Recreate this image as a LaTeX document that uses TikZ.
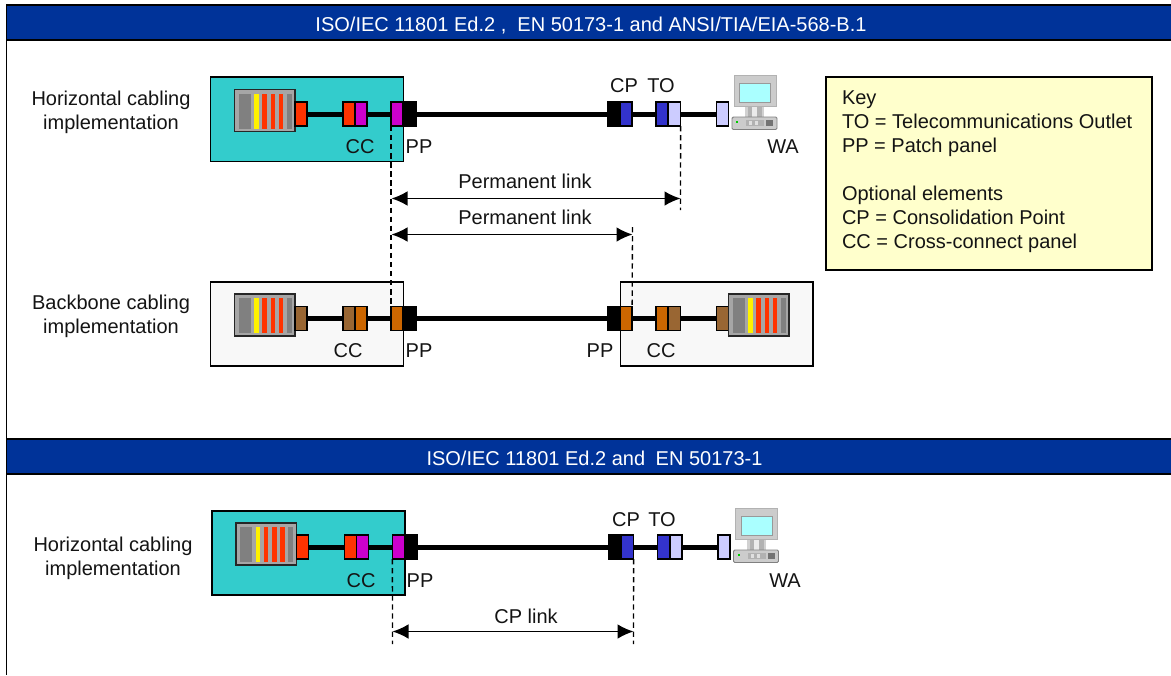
\documentclass[tikz,border=0pt]{standalone}
\usepackage{fontspec}
\setmainfont{Liberation Sans}
\usetikzlibrary{arrows.meta}
\definecolor{hdr}{HTML}{003399}
\definecolor{teal}{HTML}{33CCCC}
\definecolor{pale}{HTML}{F8F8F8}
\definecolor{keyfill}{HTML}{FFFFCC}
\definecolor{pred}{HTML}{FF3300}
\definecolor{pmag}{HTML}{CC00CC}
\definecolor{pora}{HTML}{CC6600}
\definecolor{pbro}{HTML}{996633}
\definecolor{pblu}{HTML}{3333CC}
\definecolor{plig}{HTML}{CCCCFF}
\definecolor{scr}{HTML}{AAFFFF}
\tikzset{
  txt/.style={font=\fontsize{15}{18}\selectfont,inner sep=0pt,outer sep=0pt,text=black!92},
  lab/.style={txt,anchor=base},
  hdrtxt/.style={txt,anchor=base,text=white},
  hdrbar/.style={fill=hdr,draw=black,line width=1.2pt},
  zone/.style={draw=black,line width=1.1pt},
  port/.style={draw=black,line width=1.1pt,inner sep=0pt,outer sep=0pt,minimum height=18pt,minimum width=9.2pt},
  cable/.style={line width=3.75pt,black},
  dim/.style={line width=1.1pt,{Latex[length=12pt,width=11pt]}-{Latex[length=12pt,width=11pt]}},
  guide/.style={line width=1pt,dash pattern=on 4pt off 2.8pt},
}
% panel: name, left x, top y
\newcommand\rackpanel[3]{%
  \node[draw=black!85,line width=1.1pt,fill=black!35,inner sep=0pt,outer sep=0pt,minimum width=45.5pt,minimum height=31.5pt,anchor=north west] (#1) at (#2,#3) {};
  \begin{scope}[shift={(#2,#3)}]
    \fill[black!50] (4,4) rectangle (16,39);
    \fill[yellow] (19.5,4) rectangle (24,39);
    \fill[pred] (27.5,4) rectangle (32,39);
    \fill[pred] (36,4) rectangle (40.5,39);
    \fill[pred] (44,4) rectangle (48.5,39);
    \fill[black!50] (52,4) rectangle (57,39);
  \end{scope}}
% computer: shift x, shift y
\newcommand\computer[2]{%
  \begin{scope}[shift={(#1,#2)}]
    \fill[black!18] (745,105) rectangle (764,117);
    \fill[black!30] (748,107) rectangle (762,117);
    \fill[black!8] (752,107) rectangle (757,117);
    \draw[black!30,fill=black!20,line width=0.6pt] (734,75.5) rectangle (776,106);
    \draw[black!40,fill=scr,line width=0.6pt] (739.5,83) rectangle (770.5,102);
    \draw[black!50,fill=black!20,line width=0.7pt,rounded corners=1pt] (732,117) rectangle (777,129.5);
    \fill[black!30] (746,120) rectangle (764,126);
    \fill[black!12] (749,121) rectangle (752,125);
    \fill[black!12] (755,121) rectangle (758,125);
    \fill[black!55] (766,120) rectangle (773,126);
    \fill[green!80!black] (736,120.5) rectangle (738,122.5);
  \end{scope}}
\begin{document}
\begin{tikzpicture}[x=0.75pt,y=-0.75pt]
\useasboundingbox (0,0) rectangle (1171,675);
\fill[white] (0,0) rectangle (1171,675);
% headers and frame
\draw[zone] (6.5,40) -- (6.5,675);
\draw[hdrbar] (6.5,5) rectangle (1176,40);
\draw[hdrbar] (6.5,439) rectangle (1176,474);
\node[hdrtxt] (title1) at (591,31) {ISO/IEC 11801 Ed.2 ,~ EN 50173-1 and ANSI/TIA/EIA-568-B.1};
\node[hdrtxt] (title2) at (594.5,465) {ISO/IEC 11801 Ed.2 and~\kern3.75pt EN 50173-1};
% zones
\draw[zone,fill=teal] (210.5,77) rectangle (403.5,161.5);
\draw[zone,fill=pale] (210.5,282) rectangle (403.5,366);
\draw[zone,fill=pale] (620.5,282) rectangle (813,366);
\draw[zone,fill=teal] (212,511) rectangle (405,595);
% row 1
\rackpanel{raA}{234.5}{89.5}
\node[port,fill=pred] (aP) at (301,114) {};
\node[port,fill=pred] (aC1) at (349,114) {};
\node[port,fill=pmag] (aC2) at (361,114) {};
\node[port,fill=pmag] (aPP) at (397,114) {};
\node[port,fill=black] (aPK) at (410,114) {};
\node[port,fill=black] (aCK) at (613.5,114) {};
\node[port,fill=pblu] (aCB) at (626,114) {};
\node[port,fill=pblu] (aT1) at (662,114) {};
\node[port,fill=plig] (aT2) at (674.5,114) {};
\node[port,fill=plig] (aO) at (722.5,114) {};
\draw[cable] (aP) -- (aC1);
\draw[cable] (aC2) -- (aPP);
\draw[cable] (aPK) -- (aCK);
\draw[cable] (aCB) -- (aT1);
\draw[cable] (aT2) -- (aO);
\computer{0}{0}
% row 2
\rackpanel{rbA}{234.5}{294}
\node[port,fill=pbro] (bP) at (301,318.5) {};
\node[port,fill=pbro] (bC1) at (349,318.5) {};
\node[port,fill=pora] (bC2) at (361,318.5) {};
\node[port,fill=pora] (bPP) at (397,318.5) {};
\node[port,fill=black] (bPK) at (410,318.5) {};
\node[port,fill=black] (bQK) at (613.5,318.5) {};
\node[port,fill=pora] (bQQ) at (626,318.5) {};
\node[port,fill=pora] (bD1) at (662,318.5) {};
\node[port,fill=pbro] (bD2) at (674.5,318.5) {};
\node[port,fill=pbro] (bR) at (722.5,318.5) {};
\rackpanel{rbB}{728.5}{294}
\draw[cable] (bP) -- (bC1);
\draw[cable] (bC2) -- (bPP);
\draw[cable] (bPK) -- (bQK);
\draw[cable] (bQQ) -- (bD1);
\draw[cable] (bD2) -- (bR);
% row 3
\rackpanel{rcA}{236}{523}
\node[port,fill=pred] (cP) at (302.5,547) {};
\node[port,fill=pred] (cC1) at (350.5,547) {};
\node[port,fill=pmag] (cC2) at (362.5,547) {};
\node[port,fill=pmag] (cPP) at (398.5,547) {};
\node[port,fill=black] (cPK) at (411.5,547) {};
\node[port,fill=black] (cCK) at (615,547) {};
\node[port,fill=pblu] (cCB) at (627.5,547) {};
\node[port,fill=pblu] (cT1) at (663.5,547) {};
\node[port,fill=plig] (cT2) at (676,547) {};
\node[port,fill=plig] (cO) at (724,547) {};
\draw[cable] (cP) -- (cC1);
\draw[cable] (cC2) -- (cPP);
\draw[cable] (cPK) -- (cCK);
\draw[cable] (cCB) -- (cT1);
\draw[cable] (cT2) -- (cO);
\computer{1.5}{433}
% guide lines
\coordinate (gA) at (680.5,210);
\coordinate (gB) at (632.5,227);
\coordinate (gC) at (392.5,644);
\coordinate (gD) at (633.5,644);
\draw[guide] (aPP.south west) -- (bPP.north west);
\draw[guide] (aT2.south east) -- (gA);
\draw[guide] (gB) -- (bQQ.north east);
\draw[guide] (cPP.south west) -- (gC);
\draw[guide] (cCB.south east) -- (gD);
% dimension arrows
\coordinate (d1a) at (391.5,198.5);
\coordinate (d1b) at (680.5,198.5);
\coordinate (d2a) at (391.5,234.5);
\coordinate (d2b) at (632.5,234.5);
\coordinate (d3a) at (392.5,631.5);
\coordinate (d3b) at (633.5,631.5);
\draw[dim] (d1a) -- (d1b);
\draw[dim] (d2a) -- (d2b);
\draw[dim] (d3a) -- (d3b);
\node[lab] (t1) at (525,188) {Permanent link};
\node[lab] (t2) at (525,224) {Permanent link};
\node[lab] (t3) at (526,623) {CP link};
% labels
\node[lab] (l1a) at (111,105) {Horizontal cabling};
\node[lab] (l1b) at (111,129) {implementation};
\node[lab] (l2a) at (111,309) {Backbone cabling};
\node[lab] (l2b) at (111,333) {implementation};
\node[lab] (l3a) at (113,551) {Horizontal cabling};
\node[lab] (l3b) at (113,575) {implementation};
\node[lab] (aCC) at (360,153) {CC};
\node[lab] (aPPt) at (419,153) {PP};
\node[lab] (aCP) at (624,92) {CP};
\node[lab] (aTO) at (661,92) {TO};
\node[lab] (aWA) at (783,153) {WA};
\node[lab] (bCC) at (348,357) {CC};
\node[lab] (bPPt) at (419,357) {PP};
\node[lab] (bPPu) at (600,357) {PP};
\node[lab] (bCD) at (661,357) {CC};
\node[lab] (cCC) at (361,587) {CC};
\node[lab] (cPPt) at (420,587) {PP};
\node[lab] (cCP) at (626,526) {CP};
\node[lab] (cTO) at (662,526) {TO};
\node[lab] (cWA) at (785,587) {WA};
% key
\draw[zone,fill=keyfill] (826,77) rectangle (1152,270);
\node[txt,anchor=north west,align=left] (key) at (842,90.7) {Key\\TO = Telecommunications Outlet\\PP = Patch panel\\[18pt]Optional elements\\CP = Consolidation Point\\CC = Cross-connect panel};
\end{tikzpicture}
\end{document}
